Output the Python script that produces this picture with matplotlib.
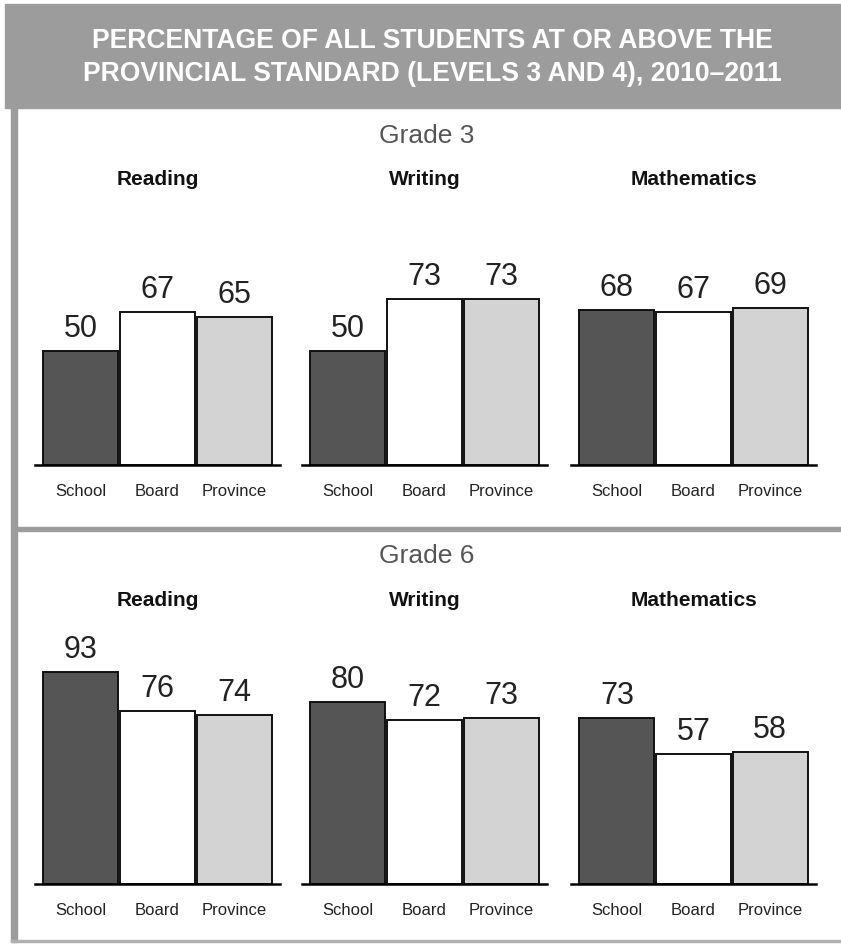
import matplotlib.pyplot as plt
from matplotlib.patches import Rectangle

plt.rcParams['font.family'] = ['Liberation Sans', 'DejaVu Sans']

title_lines = ['PERCENTAGE OF ALL STUDENTS AT OR ABOVE THE',
               'PROVINCIAL STANDARD (LEVELS 3 AND 4), 2010\u20132011']
grades = ['Grade 3', 'Grade 6']
subjects = ['Reading', 'Writing', 'Mathematics']
groups = ['School', 'Board', 'Province']
bar_colors = ['#555555', '#ffffff', '#d3d3d3']

grade3 = [[50, 67, 65], [50, 73, 73], [68, 67, 69]]
grade6 = [[93, 76, 74], [80, 72, 73], [73, 57, 58]]
values = [grade3, grade6]

W, H = 841, 944
fig = plt.figure(figsize=(W / 100, H / 100), dpi=100)

def fx(px):
    return px / W

def fy(py):
    return 1 - py / H

gray = '#9c9c9c'
# header band and frame
fig.patches.append(Rectangle((fx(5), fy(108)), fx(836), 104 / H, transform=fig.transFigure,
                             color=gray, zorder=0))
fig.patches.append(Rectangle((fx(11), fy(942)), fx(6), 834 / H, transform=fig.transFigure,
                             color=gray, zorder=0))
fig.patches.append(Rectangle((fx(17), fy(531)), fx(824), 4 / H, transform=fig.transFigure,
                             color=gray, zorder=0))
fig.patches.append(Rectangle((fx(11), fy(942)), fx(830), 2 / H, transform=fig.transFigure,
                             color='#b0b0b0', zorder=0))

fig.text(0.514, fy(41), title_lines[0], ha='center', va='center', color='white',
         fontsize=19.1, fontweight='bold')
fig.text(0.514, fy(74), title_lines[1], ha='center', va='center', color='white',
         fontsize=19.1, fontweight='bold')

baselines = [465, 884]
grade_y = [136, 556]
subj_y = [180, 600]
lefts = [35, 302, 571]
centers = [158, 425, 694]
ax_w = 245
ax_h = 228

for g in range(2):
    fig.text(fx(427), fy(grade_y[g]), grades[g], ha='center', va='center',
             fontsize=19, color='#555555')
    for s in range(3):
        fig.text(fx(centers[s]), fy(subj_y[g]), subjects[s], ha='center', va='center',
                 fontsize=15, fontweight='bold', color='#111111')
        ax = fig.add_axes([fx(lefts[s]), fy(baselines[g]), fx(ax_w), ax_h / H])
        vals = values[g][s]
        x = range(len(groups))
        ax.bar(x, vals, width=0.98, color=bar_colors, edgecolor='#111111', linewidth=1.4)
        for xi, v in zip(x, vals):
            ax.text(xi, v + 3, str(v), ha='center', va='bottom', fontsize=22, color='#222222')
        ax.set_xlim(-0.6, 2.6)
        ax.set_ylim(0, 100)
        ax.set_xticks(list(x))
        ax.set_xticklabels(groups, fontsize=12, color='#222222')
        ax.tick_params(axis='x', length=0, pad=14)
        ax.set_yticks([])
        for side in ['top', 'right', 'left']:
            ax.spines[side].set_visible(False)
        ax.spines['bottom'].set_linewidth(1.8)
        ax.patch.set_alpha(0)

fig.savefig('out.png', dpi=100)
